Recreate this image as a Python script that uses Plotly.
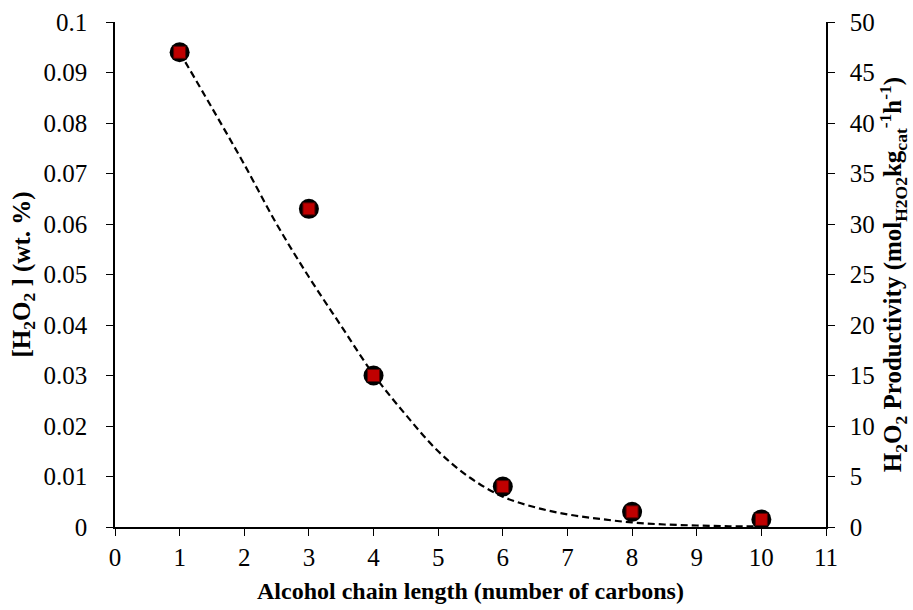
import plotly.graph_objects as go

# Data
chain_length = [1, 3, 4, 6, 8, 10]
h2o2_wt = [0.094, 0.063, 0.030, 0.008, 0.003, 0.0015]
productivity = [47.0, 31.5, 15.0, 4.0, 1.5, 0.75]

# Dashed trend curve
fit_x = [1.0, 1.5, 2.0, 2.5, 3.0, 3.5, 4.0, 4.5, 5.0, 5.5, 6.0, 6.5, 7.0, 7.5,
         8.0, 8.5, 9.0, 9.5, 10.0]
fit_y = [0.094, 0.0830, 0.0718, 0.0600, 0.0495, 0.0398, 0.0302, 0.0222, 0.0150,
         0.0097, 0.0060, 0.0039, 0.0025, 0.0016, 0.0009, 0.0005, 0.0003, 0.00015, 0.0001]

FONT = "Liberation Serif"

fig = go.Figure()
fig.add_trace(go.Scatter(x=chain_length, y=h2o2_wt, mode="markers",
                         marker=dict(symbol="circle", size=20, color="black"),
                         yaxis="y", showlegend=False))
fig.add_trace(go.Scatter(x=fit_x, y=fit_y, mode="lines",
                         line=dict(color="black", width=2.2, dash="7px,4px", shape="spline"),
                         yaxis="y", showlegend=False, hoverinfo="skip"))
fig.add_trace(go.Scatter(x=chain_length, y=productivity, mode="markers",
                         marker=dict(symbol="square", size=12, color="#c00000",
                                     line=dict(color="#5a0000", width=1)),
                         yaxis="y2", showlegend=False))

axis_common = dict(showgrid=False, zeroline=False, showline=True, linecolor="black",
                   linewidth=1.5, ticks="outside", ticklen=7, tickcolor="black",
                   tickwidth=1.3, automargin=False,
                   tickfont=dict(family=FONT, size=25, color="black"))

fig.update_layout(
    width=913, height=610,
    margin=dict(l=115, r=87, t=22, b=83),
    plot_bgcolor="white", paper_bgcolor="white",
    font=dict(family=FONT, color="black"),
    xaxis=dict(range=[0, 11], dtick=1, tick0=0, ticklabelstandoff=0,
               title=dict(text="<b>Alcohol chain length (number of carbons)</b>",
                          font=dict(family=FONT, size=24), standoff=12),
               **axis_common),
    yaxis=dict(range=[0, 0.1], dtick=0.01, tick0=0, ticklabelstandoff=14,
               title=dict(text="<b>[H<sub>2</sub>O<sub>2</sub> ] (wt. %)</b>",
                          font=dict(family=FONT, size=25), standoff=6),
               **axis_common),
    yaxis2=dict(range=[0, 50], dtick=5, tick0=0, overlaying="y", side="right",
                ticklabelstandoff=10,
                title=dict(text="<b>H<sub>2</sub>O<sub>2</sub> Productivity (mol<sub>H2O2</sub>kg<sub>cat</sub><sup>-1</sup>h<sup>-1</sup>)</b>",
                           font=dict(family=FONT, size=25), standoff=0),
                **axis_common),
)

fig.write_html("out.html")
